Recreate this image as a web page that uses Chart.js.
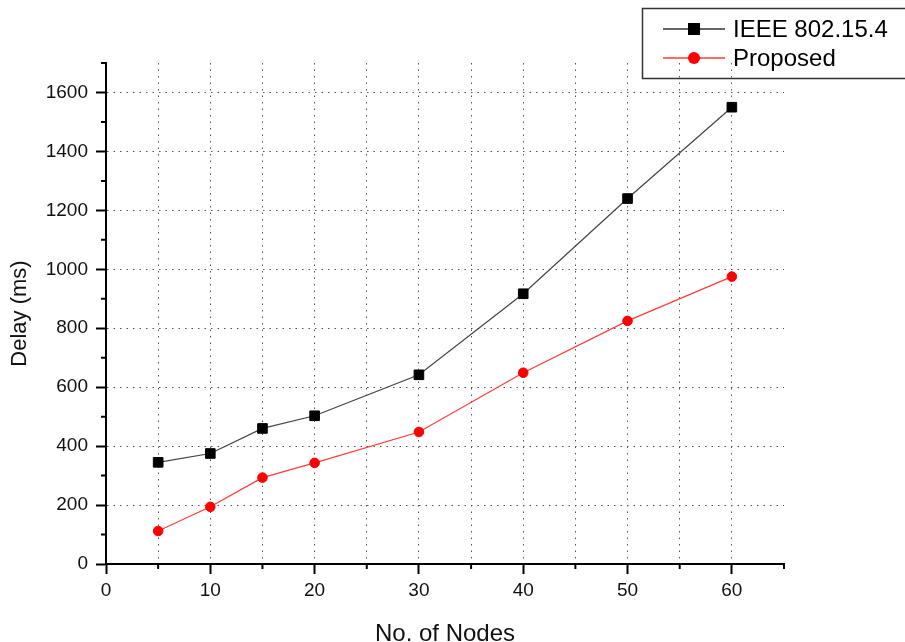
<!DOCTYPE html>
<html>
<head>
<meta charset="utf-8">
<script src="https://cdn.jsdelivr.net/npm/chart.js@4.4.1/dist/chart.umd.min.js"></script>
<style>
  html, body { margin: 0; padding: 0; background: #fff; overflow: hidden; }
  #wrap { width: 905px; height: 652px; }
</style>
</head>
<body>
<div id="wrap"><canvas id="delayChart" width="905" height="652"></canvas></div>
<script>
// values
const nodes = [5, 10, 15, 20, 30, 40, 50, 60];
const ieeeDelay = [345, 375, 460, 503, 642, 917, 1240, 1550];
const proposedDelay = [112, 194, 293, 343, 448, 649, 825, 975];
const seriesNames = ['IEEE 802.15.4', 'Proposed'];
const xTitle = 'No. of Nodes';
const yTitle = 'Delay (ms)';

const FONT = '"Liberation Sans", Arial, sans-serif';
const GRID = '#555';

const ctx = document.getElementById('delayChart').getContext('2d');

// short ticks at the minor positions (5, 15, ... and 100, 300, ...)
const minorTicks = {
    id: 'minorTicks',
    afterDraw(chart) {
        const c = chart.ctx;
        const xs = chart.scales.x, ys = chart.scales.y;
        c.save();
        c.strokeStyle = '#000';
        c.lineWidth = 2;
        c.beginPath();
        xs.ticks.forEach(t => {
            if (t.value % 10 !== 0) {
                const px = xs.getPixelForValue(t.value);
                c.moveTo(px, xs.top);
                c.lineTo(px, xs.top + 5);
            }
        });
        ys.ticks.forEach(t => {
            if (t.value % 200 !== 0) {
                const py = ys.getPixelForValue(t.value);
                c.moveTo(ys.right, py);
                c.lineTo(ys.right - 5, py);
            }
        });
        c.stroke();
        c.restore();
    }
};

// boxed legend in the top right corner, line + marker like the original
const boxLegend = {
    id: 'boxLegend',
    afterDraw(chart) {
        const c = chart.ctx;
        c.save();
        c.strokeStyle = '#333';
        c.lineWidth = 1.5;
        c.strokeRect(642.5, 8.5, 280, 70);
        chart.data.datasets.forEach((ds, i) => {
            const y = 29 + i * 29;
            c.strokeStyle = ds.legendLine;
            c.lineWidth = 2;
            c.beginPath();
            c.moveTo(663, y);
            c.lineTo(725, y);
            c.stroke();
            c.fillStyle = ds.backgroundColor;
            if (ds.pointStyle === 'rect') {
                c.fillRect(688, y - 6, 12, 12);
            } else {
                c.beginPath();
                c.arc(694, y, 6, 0, Math.PI * 2);
                c.fill();
            }
            c.fillStyle = '#000';
            c.font = '24px ' + FONT;
            c.textBaseline = 'middle';
            c.textAlign = 'left';
            c.fillText(ds.label, 733, y + 1);
        });
        c.restore();
    }
};

const chart = new Chart(ctx, {
    type: 'line',
    data: {
        datasets: [
            {
                label: seriesNames[0],
                data: nodes.map((n, i) => ({ x: n, y: ieeeDelay[i] })),
                borderColor: '#444',
                borderWidth: 1.2,
                backgroundColor: '#000',
                pointStyle: 'rect',
                pointRadius: 6.8,
                pointBorderColor: '#000',
                pointBorderWidth: 1,
                legendLine: '#666'
            },
            {
                label: seriesNames[1],
                data: nodes.map((n, i) => ({ x: n, y: proposedDelay[i] })),
                borderColor: '#ff3a3a',
                borderWidth: 1.2,
                backgroundColor: '#ff0000',
                pointStyle: 'circle',
                pointRadius: 4.8,
                pointBorderColor: '#ff0000',
                pointBorderWidth: 1,
                legendLine: '#ff6b6b'
            }
        ]
    },
    options: {
        responsive: false,
        animation: false,
        events: [],
        layout: { padding: { top: 63, right: 121, left: 0, bottom: 0 } },
        plugins: {
            legend: { display: false },
            tooltip: { enabled: false }
        },
        scales: {
            x: {
                type: 'linear',
                min: 0,
                max: 65,
                afterFit: s => { s.height = 88; },
                ticks: {
                    stepSize: 5,
                    autoSkip: false,
                    maxRotation: 0,
                    padding: 5,
                    color: '#111',
                    font: { family: FONT, size: 19 },
                    callback: v => (v % 10 === 0 ? v : '')
                },
                grid: {
                    color: c => (c.tick && c.tick.value > 0 && c.tick.value < 65 ? GRID : 'rgba(0,0,0,0)'),
                    lineWidth: 1,
                    tickLength: 10,
                    tickWidth: 2,
                    tickColor: c => (c.tick && c.tick.value % 10 === 0 ? '#000' : 'rgba(0,0,0,0)')
                },
                border: { display: true, color: '#000', width: 2, dash: [1.5, 5] },
                title: {
                    display: true,
                    text: xTitle,
                    color: '#111',
                    font: { family: FONT, size: 24 },
                    padding: { top: 0, bottom: 3 }
                }
            },
            y: {
                min: 0,
                max: 1700,
                afterFit: s => { s.width = 106; },
                ticks: {
                    stepSize: 100,
                    autoSkip: false,
                    padding: 8,
                    color: '#111',
                    font: { family: FONT, size: 19 },
                    callback: v => (v % 200 === 0 ? v : '')
                },
                grid: {
                    color: c => (c.tick && c.tick.value > 0 && c.tick.value % 200 === 0 ? GRID : 'rgba(0,0,0,0)'),
                    lineWidth: 1,
                    tickLength: 10,
                    tickWidth: 2,
                    tickColor: c => (c.tick && c.tick.value % 200 === 0 ? '#000' : 'rgba(0,0,0,0)')
                },
                border: { display: true, color: '#000', width: 2, dash: [1.5, 5] },
                title: {
                    display: true,
                    text: yTitle,
                    color: '#111',
                    font: { family: FONT, size: 22 },
                    padding: { top: 7, bottom: 0 }
                }
            }
        }
    },
    plugins: [minorTicks, boxLegend]
});
</script>
</body>
</html>
